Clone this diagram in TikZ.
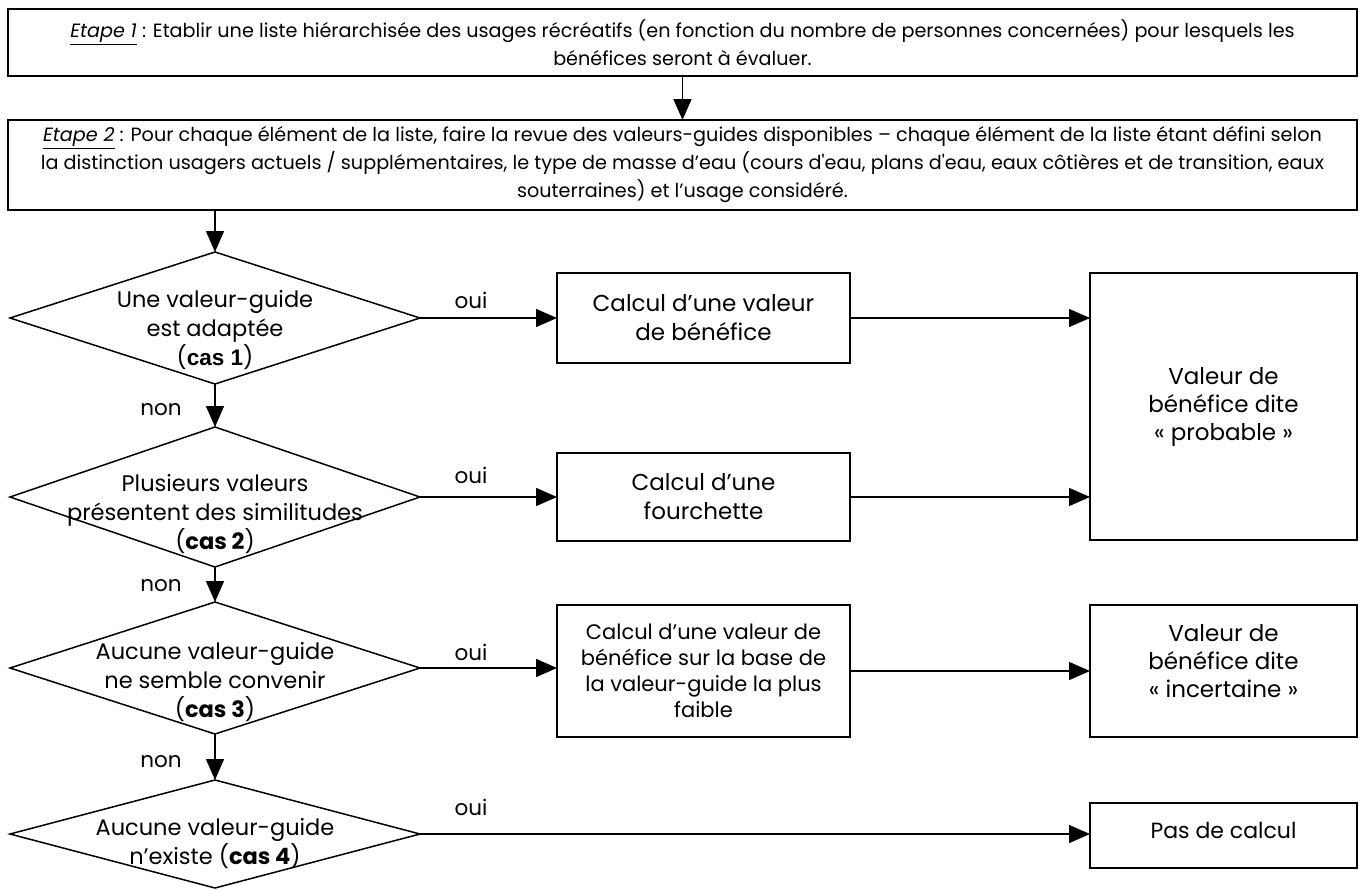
\documentclass[tikz,border=0pt]{standalone}
\usepackage{fontspec}
\newfontfamily\cg{Poppins}
\newfontfamily\arb{Liberation Sans}
\usetikzlibrary{shapes.geometric,arrows.meta}
\begin{document}
\begin{tikzpicture}[x=1pt,y=-1pt,
  every node/.style={font=\cg\fontsize{19.2}{28}\selectfont, inner sep=0pt, outer sep=0pt},
  box/.style={draw, line width=1.5pt, rectangle, align=center},
  dia/.style={draw, line width=1.5pt, diamond, minimum width=410pt},
  txt/.style={align=center, font=\cg\fontsize{22.5}{29}\selectfont},
  ctxt/.style={align=center, font=\cg\fontsize{23}{29}\selectfont},
  vtxt/.style={align=center, font=\cg\fontsize{23}{28}\selectfont},
  lab/.style={font=\cg\fontsize{21.5}{24}\selectfont},
  arr/.style={line width=1.5pt, -{Triangle[length=21pt,width=18pt]}}]
\useasboundingbox (0,0) rectangle (1364,889);

\node[box, minimum width=1349pt, minimum height=67pt] (e1) at (682.5,42.5)
 {\underline{\textit{Etape 1}} : Etablir une liste hiérarchisée des usages récréatifs (en fonction du nombre de personnes concernées) pour lesquels les\\bénéfices seront à évaluer.};
\node[box, minimum width=1349pt, minimum height=90pt] (e2) at (682.5,165)
 {\underline{\textit{Etape 2}} : Pour chaque élément de la liste, faire la revue des valeurs-guides disponibles – chaque élément de la liste étant défini selon\\la distinction usagers actuels / supplémentaires, le type de masse d’eau (cours d'eau, plans d'eau, eaux côtières et de transition, eaux\\souterraines) et l’usage considéré.};

\node[dia, minimum height=132pt] (d1) at (215,318) {};
\node[dia, minimum height=140pt] (d2) at (215,497) {};
\node[dia, minimum height=132pt] (d3) at (215,668) {};
\node[dia, minimum height=108pt] (d4) at (215,834) {};

\node[txt] (t1) at (215,330) {Une valeur-guide\\est adaptée\\({\arb\bfseries cas 1})};
\node[txt] (t2) at (215,514) {Plusieurs valeurs\\présentent des similitudes\\({\bfseries cas 2})};
\node[txt] (t3) at (215,682) {Aucune valeur-guide\\ne semble convenir\\({\bfseries cas 3})};
\node[txt] (t4) at (215,844) {Aucune valeur-guide\\n’existe ({\bfseries cas 4})};

\node[box, ctxt, minimum width=293pt, minimum height=90pt] (c1) at (703.5,318) {Calcul d’une valeur\\de bénéfice};
\node[box, ctxt, minimum width=293pt, minimum height=88pt] (c2) at (703.5,497) {Calcul d’une\\fourchette};
\node[box, align=center, font=\cg\fontsize{21}{26}\selectfont, minimum width=293pt, minimum height=132pt] (c3) at (703.5,671) {Calcul d’une valeur de\\bénéfice sur la base de\\la valeur-guide la plus\\faible};

\node[box, vtxt, minimum width=267pt, minimum height=267pt] (v1) at (1223.5,406.5) {Valeur de\\bénéfice dite\\« probable »};
\node[box, minimum width=267pt, minimum height=132pt] (v2) at (1223.5,671) {};
\node[vtxt] (v2t) at (1223.5,661) {Valeur de\\bénéfice dite\\« incertaine »};
\node[box, minimum width=267pt, minimum height=65pt] (p) at (1223.5,835.5) {};
\node[vtxt, font=\cg\fontsize{22}{28}\selectfont] (pt) at (1223.5,830) {Pas de calcul};

\draw[arr] (e1.south) -- (e2.north);
\draw[arr] (e2.south -| d1.north) -- (d1.north);
\draw[arr] (d1.south) -- (d2.north);
\draw[arr] (d2.south) -- (d3.north);
\draw[arr] (d3.south) -- (d4.north);

\draw[arr] (d1.east) -- (c1.west);
\draw[arr] (d2.east) -- (c2.west);
\draw[arr] (d3.east) -- (d3.east -| c3.west);
\draw[arr] (d4.east) -- (d4.east -| p.west);
\draw[arr] (c1.east) -- (c1.east -| v1.west);
\draw[arr] (c2.east) -- (c2.east -| v1.west);
\draw[arr] (c3.east) -- (v2.west);

\node[lab] (n1) at (161,410) {non};
\node[lab] (n2) at (161,586) {non};
\node[lab] (n3) at (161,762) {non};
\node[lab] (o1) at (471,300) {oui};
\node[lab] (o2) at (471,475) {oui};
\node[lab] (o3) at (471,652) {oui};
\node[lab] (o4) at (471,807) {oui};
\end{tikzpicture}
\end{document}
